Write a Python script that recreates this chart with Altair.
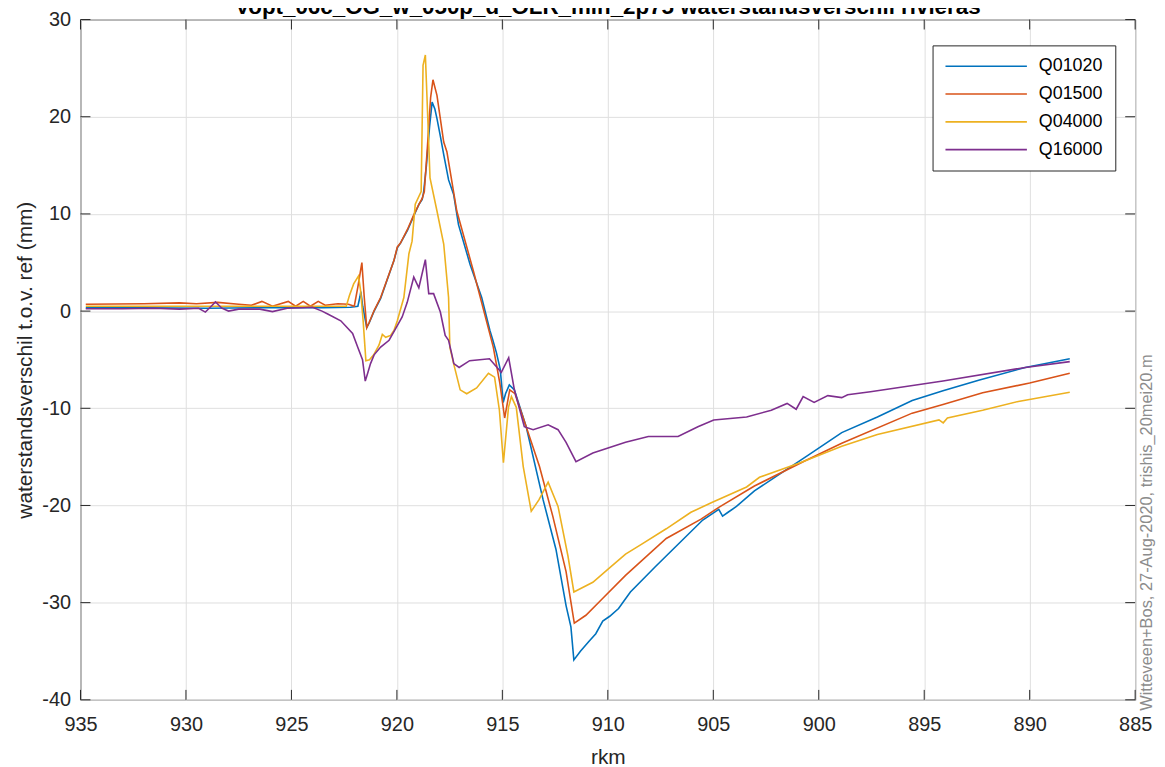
import altair as alt
import pandas as pd

# ---------------- data ----------------
series_names = ["Q01020", "Q01500", "Q04000", "Q16000"]
series_colors = ["#0072BD", "#D95319", "#EDB120", "#7E2F8E"]

Q01020 = [(934.75, 0.35), (932, 0.35), (929, 0.3), (926, 0.35), (923.5, 0.35), (922.2, 0.4),
          (921.85, 0.5), (921.75, 1.5), (921.71, 2.0), (921.62, 0.5), (921.43, -1.7), (921.31, -1.2),
          (921.08, 0.0), (920.77, 1.3), (920.14, 5.2), (919.98, 6.5), (919.83, 7.0), (919.5, 8.3),
          (919.2, 9.8), (918.95, 11.0), (918.8, 11.5), (918.73, 12.3), (918.6, 15.0), (918.45, 19.0),
          (918.33, 21.5), (918.2, 20.8), (918.1, 19.8), (917.94, 18.0), (917.78, 16.1), (917.55, 13.5),
          (917.31, 12.0), (917.08, 8.9), (916.53, 4.8), (915.98, 1.4), (915.59, -2.0), (915.45, -3.0),
          (915.28, -4.3), (915.1, -6.0), (914.96, -9.4), (914.85, -8.5), (914.67, -7.6), (914.43, -8.1),
          (913.87, -11.9), (913.07, -19.4), (912.46, -24.5), (911.98, -30.3), (911.75, -32.5),
          (911.61, -35.9), (911.3, -35.0), (910.9, -34.0), (910.57, -33.2), (910.24, -31.9),
          (909.91, -31.4), (909.49, -30.6), (909.16, -29.6), (908.93, -28.9), (907.75, -26.3),
          (906.39, -23.4), (905.5, -21.5), (904.74, -20.4), (904.56, -21.1), (904.3, -20.7),
          (903.9, -20.1), (903.05, -18.5), (901.73, -16.6), (900.55, -14.9), (898.91, -12.5),
          (897.22, -10.9), (895.57, -9.2), (894.11, -8.2), (892.38, -7.1), (890.21, -5.8), (888.1, -4.9)]

Q01500 = [(934.75, 0.7), (932, 0.75), (930.3, 0.85), (929.5, 0.75), (928.5, 0.9), (927.5, 0.7),
          (926.9, 0.6), (926.4, 1.0), (925.9, 0.5), (925.15, 1.0), (924.8, 0.5), (924.44, 1.0),
          (924.1, 0.5), (923.73, 1.0), (923.4, 0.6), (922.8, 0.75), (922.3, 0.7), (922.02, 0.5),
          (921.85, 2.5), (921.66, 5.0), (921.55, 1.5), (921.43, -1.7), (921.31, -1.15), (921.08, 0.06),
          (920.77, 1.4), (920.14, 5.2), (919.98, 6.6), (919.83, 7.0), (919.5, 8.4), (919.2, 9.9),
          (918.95, 11.0), (918.8, 11.6), (918.7, 12.3), (918.55, 17.0), (918.4, 22.0), (918.29, 23.8),
          (918.1, 22.2), (917.78, 17.4), (917.63, 16.4), (917.16, 10.3), (916.37, 4.1), (915.43, -3.7),
          (915.12, -7.4), (914.89, -11.0), (914.65, -8.1), (914.4, -8.5), (913.87, -11.9),
          (913.24, -16.0), (912.61, -21.1), (911.98, -26.8), (911.59, -32.1), (911.04, -31.3),
          (910.26, -29.6), (909.16, -27.2), (907.23, -23.4), (905.58, -21.4), (904.74, -20.2),
          (903.05, -18.0), (900.74, -15.5), (898.91, -13.6), (895.57, -10.5), (894.11, -9.6),
          (892.23, -8.4), (890.0, -7.4), (888.1, -6.4)]

Q04000 = [(934.75, 0.5), (926, 0.5), (922.4, 0.5), (922.25, 1.6), (922.05, 2.8), (921.82, 3.6),
          (921.72, 2.1), (921.6, -1.0), (921.47, -5.1), (921.3, -5.0), (921.1, -4.5), (920.85, -3.5),
          (920.69, -2.4), (920.53, -2.7), (920.3, -2.5), (920.14, -2.0), (919.98, -1.0), (919.67, 1.4),
          (919.43, 5.9), (919.28, 7.2), (919.13, 11.0), (918.85, 12.3), (918.76, 25.3), (918.65, 26.35),
          (918.57, 21.8), (918.43, 13.7), (918.1, 10.3), (917.78, 6.9), (917.55, 1.4), (917.49, -3.7),
          (917.31, -5.4), (917.0, -8.1), (916.69, -8.5), (916.22, -7.9), (915.66, -6.4), (915.37, -6.8),
          (915.14, -10.2), (914.95, -15.6), (914.71, -9.9), (914.57, -8.8), (914.34, -9.9),
          (914.01, -16.0), (913.63, -20.6), (913.26, -19.4), (912.83, -17.6), (912.36, -20.1),
          (911.89, -25.2), (911.61, -28.9), (910.71, -27.9), (909.96, -26.5), (909.16, -25.0),
          (908.41, -24.0), (907.23, -22.4), (906.06, -20.7), (905.07, -19.7), (903.42, -18.1),
          (902.81, -17.1), (900.88, -15.6), (898.91, -13.9), (897.22, -12.7), (894.3, -11.2),
          (894.1, -11.5), (893.9, -11.0), (892.23, -10.2), (890.54, -9.3), (888.1, -8.35)]

Q16000 = [(934.75, 0.25), (933, 0.25), (931.5, 0.3), (930.3, 0.2), (929.4, 0.3), (929.08, -0.1),
          (928.85, 0.4), (928.6, 0.95), (928.3, 0.3), (927.98, 0.0), (927.5, 0.2), (926.5, 0.2),
          (925.9, -0.05), (925.2, 0.3), (924.5, 0.35), (924.0, 0.4), (923.55, 0.0), (923.28, -0.3),
          (922.66, -1.0), (922.1, -2.3), (921.86, -3.7), (921.63, -5.0), (921.5, -7.2), (921.4, -6.5),
          (921.25, -5.4), (921.08, -4.5), (920.77, -3.7), (920.37, -3.0), (920.06, -1.8),
          (919.75, -0.6), (919.51, 0.9), (919.2, 3.5), (918.96, 2.4), (918.65, 5.3), (918.49, 1.8),
          (918.26, 1.8), (917.94, -0.1), (917.71, -2.5), (917.55, -3.0), (917.39, -4.5), (917.3, -5.4),
          (917.05, -5.8), (916.55, -5.1), (915.61, -4.9), (915.05, -6.3), (914.7, -4.8), (914.43, -8.1),
          (913.96, -11.9), (913.54, -12.2), (912.83, -11.7), (912.36, -12.2), (911.98, -13.5),
          (911.51, -15.5), (910.71, -14.6), (909.16, -13.5), (908.08, -12.9), (906.67, -12.9),
          (905.73, -11.9), (904.98, -11.2), (903.42, -10.9), (902.25, -10.2), (901.5, -9.5),
          (901.07, -10.1), (900.74, -8.8), (900.22, -9.4), (899.57, -8.7), (898.91, -8.9),
          (898.63, -8.6), (897.55, -8.3), (894.11, -7.2), (890.21, -5.8), (888.1, -5.2)]

x_ticks = [935, 930, 925, 920, 915, 910, 905, 900, 895, 890, 885]
y_ticks = [-40, -30, -20, -10, 0, 10, 20, 30]

title_text = "Vopt_06c_OG_w_050p_d_OLR_min_2p75 waterstandsverschil rivieras"
side_text = "Witteveen+Bos, 27-Aug-2020, trishis_20mei20.m"
x_title = "rkm"
y_title = "waterstandsverschil t.o.v. ref (mm)"

# ---------------- build tables ----------------
rows = []
for name, pts in zip(series_names, [Q01020, Q01500, Q04000, Q16000]):
    for k, v in pts:
        rows.append({"serie": name, "rkm": k, "val": v})
df = pd.DataFrame(rows)
xt = pd.DataFrame({"rkm": x_ticks})
yt = pd.DataFrame({"val": y_ticks})

W, H = 1062, 685
FONT = "Liberation Sans"
AX = "#262626"
TICK = 10

xscale = alt.Scale(domain=[885, 935], reverse=True, nice=False, zero=False)
yscale = alt.Scale(domain=[-40, 30], nice=False, zero=False)

xaxis = alt.Axis(values=x_ticks, labelExpr="'' + datum.value", title=x_title, labelFlush=False,
                 labelPadding=15, titlePadding=12)
yaxis = alt.Axis(values=y_ticks, labelExpr="'' + datum.value", title=y_title,
                 labelPadding=10, titlePadding=6)

lines = alt.Chart(df).mark_line(strokeWidth=1.6, clip=True).encode(
    x=alt.X("rkm:Q", scale=xscale, axis=xaxis),
    y=alt.Y("val:Q", scale=yscale, axis=yaxis),
    color=alt.Color("serie:N",
                    scale=alt.Scale(domain=series_names, range=series_colors),
                    legend=alt.Legend(title=None, orient="none", legendX=858, legendY=26,
                                      direction="vertical", symbolType="stroke",
                                      symbolSize=6724, symbolStrokeWidth=1.6, clipHeight=18,
                                      labelFontSize=18, labelFont=FONT, labelColor="#000000",
                                      strokeColor=AX, fillColor="#ffffff", padding=12,
                                      rowPadding=10, labelOffset=11, labelLimit=300)),
)

bottom_ticks = alt.Chart(xt).mark_rule(color=AX, strokeWidth=1).encode(
    x=alt.X("rkm:Q", scale=xscale, axis=xaxis), y=alt.value(H), y2=alt.value(H - TICK))
top_ticks = alt.Chart(xt).mark_rule(color=AX, strokeWidth=1).encode(
    x=alt.X("rkm:Q", scale=xscale, axis=xaxis), y=alt.value(0), y2=alt.value(TICK))
left_ticks = alt.Chart(yt).mark_rule(color=AX, strokeWidth=1).encode(
    y=alt.Y("val:Q", scale=yscale, axis=yaxis), x=alt.value(0), x2=alt.value(TICK))
right_ticks = alt.Chart(yt).mark_rule(color=AX, strokeWidth=1).encode(
    y=alt.Y("val:Q", scale=yscale, axis=yaxis), x=alt.value(W), x2=alt.value(W - TICK))

title_mark = alt.Chart(pd.DataFrame({"t": [title_text]})).mark_text(
    font=FONT, fontSize=22.5, fontWeight="bold", color="#000000",
    align="center", baseline="alphabetic").encode(
    text="t:N", x=alt.value(W / 2), y=alt.value(-6))

side_mark = alt.Chart(pd.DataFrame({"t": [side_text]})).mark_text(
    font=FONT, fontSize=16.5, color="#8c8c8c", angle=270,
    align="left", baseline="middle").encode(
    text="t:N", x=alt.value(W + 12), y=alt.value(696))

chart = alt.layer(lines, bottom_ticks, top_ticks, left_ticks, right_ticks, title_mark, side_mark).properties(
    width=W, height=H,
    autosize=alt.AutoSizeParams(type="none"),
    padding={"left": 73, "top": 9, "right": 22, "bottom": 65},
    background="#ffffff",
).configure_view(
    stroke=AX, strokeWidth=1
).configure_axis(
    grid=True, gridColor="#dfdfdf", gridWidth=1, domain=False, ticks=False,
    labelFont=FONT, labelFontSize=20, labelColor=AX,
    titleFont=FONT, titleFontSize=21, titleFontWeight="normal", titleColor=AX,
)

chart.save("out.html", embed_options={"renderer": "svg", "actions": False})
